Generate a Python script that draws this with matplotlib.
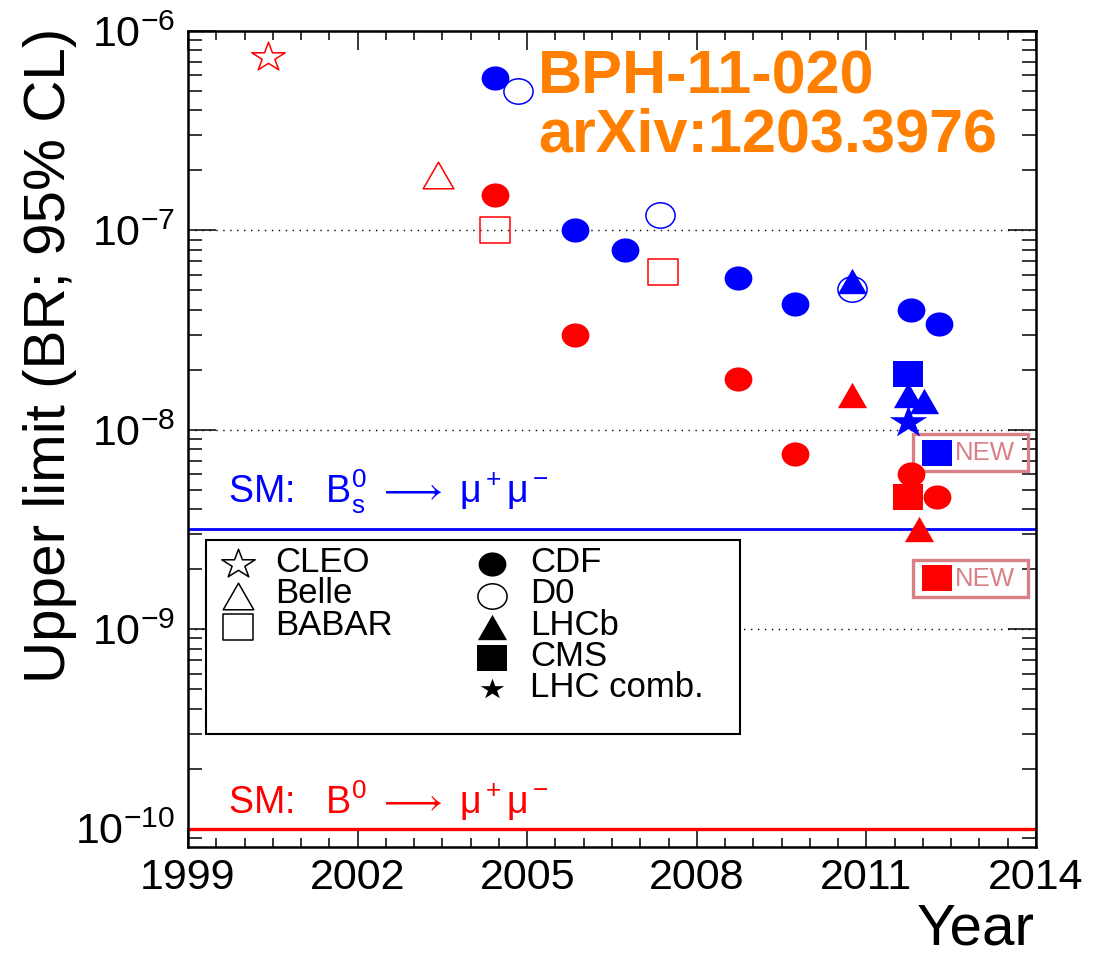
import numpy as np
import matplotlib
matplotlib.use("Agg")
import matplotlib.pyplot as plt
from matplotlib.path import Path
from matplotlib.patches import Rectangle
from matplotlib.ticker import (MultipleLocator, FixedLocator, FormatStrFormatter,
                               LogFormatterMathtext, NullFormatter)

plt.rcParams["font.family"] = ["Liberation Sans", "DejaVu Sans"]
plt.rcParams["mathtext.fontset"] = "custom"
plt.rcParams["mathtext.rm"] = "Liberation Sans"
plt.rcParams["mathtext.it"] = "Liberation Sans:italic"
plt.rcParams["mathtext.bf"] = "Liberation Sans:bold"
plt.rcParams["mathtext.fallback"] = "stix"

# ---------------- data: 95% CL upper limits on BR ----------------
# B_s -> mu+ mu-
cdf_bs_year = [2004.43, 2005.85, 2006.73, 2008.73, 2009.74, 2011.79, 2012.28]
cdf_bs_limit = [5.8e-7, 1.0e-7, 8.0e-8, 5.8e-8, 4.3e-8, 4.0e-8, 3.4e-8]
d0_bs_year = [2004.84, 2007.35, 2010.75]
d0_bs_limit = [5.0e-7, 1.2e-7, 5.1e-8]
lhcb_bs_year = [2010.75, 2011.74, 2012.02]
lhcb_bs_limit = [5.6e-8, 1.5e-8, 1.4e-8]
cms_bs_year = [2011.74]
cms_bs_limit = [1.9e-8]
comb_bs_year = [2011.74]
comb_bs_limit = [1.1e-8]
cms_bs_new_year = [2012.25]
cms_bs_new_limit = [7.7e-9]

# B0 -> mu+ mu-
cleo_b0_year = [2000.42]
cleo_b0_limit = [7.4e-7]
belle_b0_year = [2003.43]
belle_b0_limit = [1.9e-7]
babar_b0_year = [2004.43, 2007.40]
babar_b0_limit = [1.0e-7, 6.2e-8]
cdf_b0_year = [2004.43, 2005.85, 2008.73, 2009.74, 2011.79, 2012.25]
cdf_b0_limit = [1.5e-7, 3.0e-8, 1.8e-8, 7.6e-9, 6.0e-9, 4.6e-9]
lhcb_b0_year = [2010.75, 2011.93]
lhcb_b0_limit = [1.5e-8, 3.2e-9]
cms_b0_year = [2011.74]
cms_b0_limit = [4.6e-9]
cms_b0_new_year = [2012.25]
cms_b0_new_limit = [1.8e-9]

# Standard Model predictions
sm_bs = 3.2e-9
sm_b0 = 1.0e-10

x_ticks = [1999, 2002, 2005, 2008, 2011, 2014]
y_ticks = [1e-10, 1e-9, 1e-8, 1e-7, 1e-6]

BLUE = "#0000ff"
RED = "#ff0000"
ORANGE = "#ff8000"
NEWCOL = "#d97f86"

# ---------------- marker shapes (slightly wide, ROOT style) ----------------
SX = 1.15


def widen(verts, codes=None, sx=SX):
    v = np.array(verts, dtype=float)
    v[:, 0] *= sx
    return Path(v, codes)


_c = Path.unit_circle()
CIRCLE = widen(_c.vertices, _c.codes)
SQUARE = widen([(-1, -1), (1, -1), (1, 1), (-1, 1), (-1, -1)],
               [Path.MOVETO, Path.LINETO, Path.LINETO, Path.LINETO, Path.CLOSEPOLY])
TRIANGLE = widen([(0, 1), (-1, -1), (1, -1), (0, 1)],
                 [Path.MOVETO, Path.LINETO, Path.LINETO, Path.CLOSEPOLY])
_s = Path.unit_regular_star(5, 0.381966)
STAR = widen(_s.vertices, _s.codes)

STYLE = {
    "CLEO": dict(marker=STAR, ms=24, filled=False),
    "Belle": dict(marker=TRIANGLE, ms=22, filled=False),
    "BABAR": dict(marker=SQUARE, ms=21.5, filled=False),
    "CDF": dict(marker=CIRCLE, ms=20, filled=True),
    "D0": dict(marker=CIRCLE, ms=21, filled=False),
    "LHCb": dict(marker=TRIANGLE, ms=21, filled=True),
    "CMS": dict(marker=SQUARE, ms=21.5, filled=True),
    "LHC comb.": dict(marker=STAR, ms=27, filled=True),
}


def draw(ax, years, limits, exp, color):
    st = STYLE[exp]
    if st["filled"]:
        kwargs = dict(mfc=color, mec=color, mew=0)
    else:
        kwargs = dict(mfc="none", mec=color, mew=1.1)
    return ax.plot(years, limits, ls="none", marker=st["marker"], ms=st["ms"],
                   zorder=4, **kwargs)


# ---------------- figure ----------------
fig = plt.figure(figsize=(11.09, 9.55), dpi=100)
ax = fig.add_axes([0.1695, 0.1131, 0.7647, 0.8544])
ax.set_yscale("log")
ymin, ymax = 8.1e-11, 1e-6
ax.set_xlim(1999, 2014)
ax.set_ylim(ymin, ymax)

# horizontal SM lines
ax.axhline(sm_bs, color=BLUE, lw=2.0, zorder=2)
ax.axhline(sm_b0, color=RED, lw=2.4, zorder=2)

# B_s measurements (blue)
draw(ax, cdf_bs_year, cdf_bs_limit, "CDF", BLUE)
draw(ax, d0_bs_year, d0_bs_limit, "D0", BLUE)
draw(ax, lhcb_bs_year, lhcb_bs_limit, "LHCb", BLUE)
draw(ax, cms_bs_year, cms_bs_limit, "CMS", BLUE)
draw(ax, comb_bs_year, comb_bs_limit, "LHC comb.", BLUE)
draw(ax, cms_bs_new_year, cms_bs_new_limit, "CMS", BLUE)

# B0 measurements (red)
draw(ax, cleo_b0_year, cleo_b0_limit, "CLEO", RED)
draw(ax, belle_b0_year, belle_b0_limit, "Belle", RED)
draw(ax, babar_b0_year, babar_b0_limit, "BABAR", RED)
draw(ax, cdf_b0_year, cdf_b0_limit, "CDF", RED)
draw(ax, lhcb_b0_year, lhcb_b0_limit, "LHCb", RED)
draw(ax, cms_b0_year, cms_b0_limit, "CMS", RED)
draw(ax, cms_b0_new_year, cms_b0_new_limit, "CMS", RED)

# "NEW" tags around the latest CMS results
for yr, lim in [(cms_bs_new_year[0], cms_bs_new_limit[0]),
                (cms_b0_new_year[0], cms_b0_new_limit[0])]:
    ax.add_patch(Rectangle((yr - 0.425, lim * 0.808), 2.034, lim * (1.238 - 0.808),
                           fill=False, ec=NEWCOL, lw=2.4, zorder=3))
    ax.annotate("NEW", xy=(yr, lim), xytext=(13, -5.2), textcoords="offset points",
                ha="left", va="baseline", fontsize=18.5, color=NEWCOL, zorder=5)

# SM labels
ax.annotate(r"SM:$\mathregular{\quad B^0_s\ \longrightarrow\ \mu^+\mu^-}$",
            xy=(1999.71, sm_bs), xytext=(0, 18), textcoords="offset points",
            ha="left", va="baseline", fontsize=27, color=BLUE)
ax.annotate(r"SM:$\mathregular{\quad B^0\ \longrightarrow\ \mu^+\mu^-}$",
            xy=(1999.71, sm_b0), xytext=(0, 10.8), textcoords="offset points",
            ha="left", va="baseline", fontsize=27, color=RED)

# axes styling
ax.xaxis.set_major_locator(FixedLocator(x_ticks))
ax.xaxis.set_minor_locator(FixedLocator(np.arange(1999.5, 2014, 0.5)))
ax.xaxis.set_major_formatter(FormatStrFormatter("%d"))
ax.xaxis.set_minor_formatter(NullFormatter())

minor_y = [m * d for d in y_ticks for m in range(2, 10)] + [9e-11]
minor_y = [v for v in minor_y if ymin <= v <= ymax]
ax.yaxis.set_major_locator(FixedLocator(y_ticks))
ax.yaxis.set_minor_locator(FixedLocator(minor_y))
ax.yaxis.set_major_formatter(LogFormatterMathtext())
ax.yaxis.set_minor_formatter(NullFormatter())

ax.tick_params(which="both", direction="in", top=True, right=True, width=1.1,
               labelsize=31)
ax.tick_params(axis="x", which="major", length=13.5, pad=8)
ax.tick_params(axis="x", which="minor", length=6.5)
ax.tick_params(axis="y", which="major", length=20, pad=9)
ax.tick_params(axis="y", which="minor", length=10)
for sp in ax.spines.values():
    sp.set_linewidth(1.8)
ax.set_axisbelow(True)
ax.yaxis.grid(True, which="major", ls=(0, (1, 4)), color="black", lw=1.0)
ax.xaxis.label.set_visible(False)
ax.yaxis.label.set_visible(False)

# legend box
ax.add_patch(Rectangle((0.0212, 0.1385), 0.6298, 0.2377, transform=ax.transAxes,
                       fc="white", ec="black", lw=1.5, zorder=6))
rows = [0.3468, 0.3082, 0.2696, 0.2316, 0.1936]
col1 = ["CLEO", "Belle", "BABAR"]
col2 = ["CDF", "D0", "LHCb", "CMS", "LHC comb."]
for names, mx, tx in [(col1, 0.0590, 0.1026), (col2, 0.3580, 0.4033)]:
    for name, ry in zip(names, rows):
        st = STYLE[name]
        size = 17 if name == "LHC comb." else st["ms"]
        if st["filled"]:
            kw = dict(mfc="black", mec="black", mew=0)
        else:
            kw = dict(mfc="none", mec="black", mew=1.1)
        ax.plot([mx], [ry], transform=ax.transAxes, marker=st["marker"], ms=size,
                ls="none", zorder=7, clip_on=False, **kw)
        ax.text(tx, ry + 0.002, name, transform=ax.transAxes, ha="left", va="center",
                fontsize=25, color="black", zorder=7)

# titles
fig.text(50 / 1109, 1 - 28 / 955, "Upper limit (BR; 95% CL)", rotation=90,
         ha="center", va="top", fontsize=42)
fig.text(1035 / 1109, 1 - 944 / 955, "Year", ha="right", va="baseline", fontsize=42)
fig.text(538 / 1109, 1 - 93 / 955, "BPH-11-020", ha="left", va="baseline",
         fontsize=44, fontweight="bold", color=ORANGE)
fig.text(538 / 1109, 1 - 152 / 955, "arXiv:1203.3976", ha="left", va="baseline",
         fontsize=44, fontweight="bold", color=ORANGE)

fig.savefig("out.png", dpi=100)
